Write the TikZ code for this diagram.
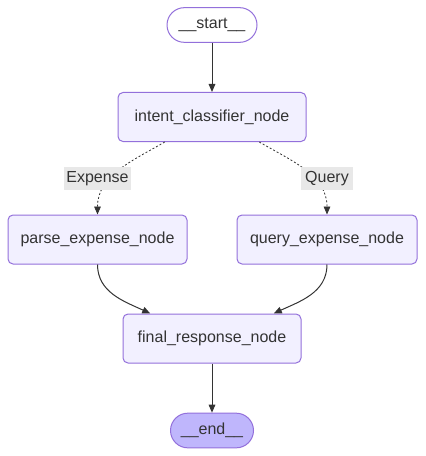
\documentclass[tikz,border=0pt]{standalone}
\usepackage{fontspec}
\setmainfont{Liberation Sans}
\usepackage{tikz}
\usetikzlibrary{arrows.meta,positioning,calc}

\definecolor{nodefill}{HTML}{F2F0FF}
\definecolor{nodeline}{HTML}{9370DB}
\definecolor{endfill}{HTML}{BFB6FC}
\definecolor{edgeline}{HTML}{333333}
\definecolor{lblfill}{HTML}{E8E8E8}

\begin{document}
\begin{tikzpicture}[
    x=0.75pt, y=0.75pt,
    font=\fontsize{12}{14}\selectfont,
    n/.style={draw=nodeline, fill=nodefill, text=edgeline, rounded corners=3.75pt,
              line width=0.75pt, minimum height=36.75pt, inner xsep=0pt},
    term/.style={n, rounded corners=13pt, minimum height=26pt},
    lbl/.style={fill=lblfill, text=edgeline, inner sep=1pt, minimum height=17pt},
    flow/.style={draw=edgeline, line width=0.75pt, -{Triangle[length=6pt,width=5pt]}},
    cond/.style={flow, line width=0.6pt, dash pattern=on 1.5pt off 1.5pt},
    ]
\useasboundingbox (0,0) rectangle (425,-456);

\node[term, fill=white, minimum width=67.5pt] (start) at (212,-25) {\_\_start\_\_};
\node[n, minimum width=141pt] (intent) at (212,-117) {intent\_classifier\_node};
\node[n, minimum width=134.25pt] (parse) at (97.5,-239.5) {parse\_expense\_node};
\node[n, minimum width=135pt] (query) at (327,-239.5) {query\_expense\_node};
\node[n, minimum width=133.5pt] (final) at (212,-338.5) {final\_response\_node};
\node[term, fill=endfill, minimum width=62.25pt] (end) at (212,-430.5) {\_\_end\_\_};

% conditional branches
\draw[cond] ($(intent.south)!0.5!(intent.south west)$) to[out=-150, in=90] (parse.north);
\draw[cond] ($(intent.south)!0.5!(intent.south east)$) to[out=-30, in=90] (query.north);
\node[lbl, minimum width=50.25pt] (lexp) at (97.5,-178.5) {Expense};
\node[lbl, minimum width=39pt] (lqry) at (327,-178.5) {Query};

\draw[flow] (start) -- (intent);
\draw[flow] (parse.south) to[out=-90, in=155] ($(final.north west)!0.31!(final.north)$);
\draw[flow] (query.south) to[out=-90, in=25] ($(final.north east)!0.31!(final.north)$);
\draw[flow] (final) -- (end);
\end{tikzpicture}
\end{document}
